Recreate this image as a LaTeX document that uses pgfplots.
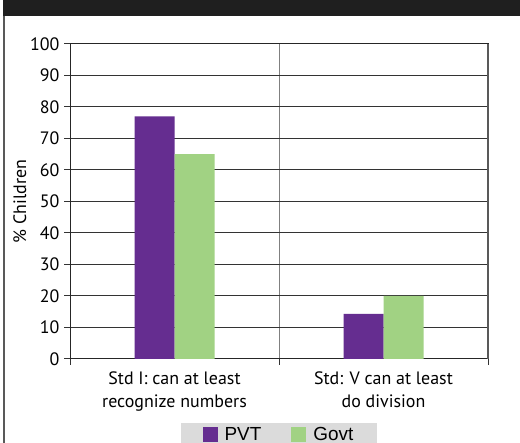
\documentclass[border=0pt]{standalone}
\usepackage{pgfplots}
\pgfplotsset{compat=1.18}
\usepackage{fontspec}
\setmainfont{PT Sans}
\newfontfamily\arialf{Liberation Sans}
\definecolor{pvt}{RGB}{101,45,144}
\definecolor{govt}{RGB}{161,210,131}
\begin{document}
\begin{tikzpicture}[x=1bp,y=1bp]
\useasboundingbox (0,0) rectangle (520,443);
\fill[white] (0,0) rectangle (520,443);
\fill[black!88] (3,427) rectangle (520,443);
\draw[black!65, line width=1.5bp] (3.75,427) -- (3.75,0);
\begin{axis}[
  at={(70bp,84bp)}, anchor=south west,
  scale only axis, width=418bp, height=315bp,
  xmin=-0.5, xmax=1.5, ymin=0, ymax=100,
  ybar=0pt, bar width=40bp,
  /pgf/number format/assume math mode=true,
  xtick={0,1},
  xticklabels={{Std I: can at least\\recognize numbers},{Std: V can at least\\do division}},
  xticklabel style={align=center, font=\fontsize{18}{23}\selectfont, yshift=-3bp},
  major x tick style={draw=none},
  minor xtick={-0.5,0.5,1.5},
  minor x tick style={black!80, line width=1bp},
  minor tick length=6bp,
  xminorgrids=true,
  minor x grid style={black!50, line width=1bp},
  ytick={0,10,...,100},
  major tick length=6bp,
  tick align=outside,
  tick pos=left,
  ytick style={black!80, line width=1bp},
  yticklabel style={font=\fontsize{18}{20}\selectfont, xshift=-1bp},
  ymajorgrids=true,
  major y grid style={black!80, line width=1bp},
  axis line style={black!85, line width=1bp},
  ylabel={\% Children},
  ylabel style={font=\fontsize{18}{20}\selectfont, yshift=-3bp},
  legend style={at={(0.5,-0.203)}, anchor=north, legend columns=2,
    fill=black!14, draw=none, inner xsep=22bp, inner ysep=2bp,
    font=\arialf\fontsize{19}{21}\selectfont,
    /tikz/every even column/.append style={column sep=28bp}},
]
\addplot[fill=pvt, draw=none, legend image code/.code={\fill[pvt] (-3bp,-8bp) rectangle (12bp,7bp);}] coordinates {(0,77) (1,14.3)};
\addplot[fill=govt, draw=none, legend image code/.code={\fill[govt] (-3bp,-8bp) rectangle (12bp,7bp);}] coordinates {(0,65) (1,20)};
\legend{\hspace{5bp}PVT,\hspace{5bp}Govt}
\end{axis}
\draw[black!65, line width=2bp] (488,84) -- (488,399);
\end{tikzpicture}
\end{document}
